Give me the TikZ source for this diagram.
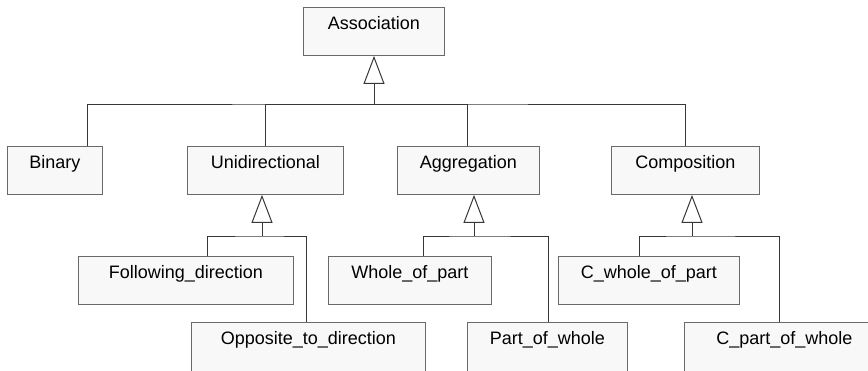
\documentclass[tikz,border=0pt]{standalone}
\usepackage{fontspec}
\setmainfont{Liberation Sans}
\usetikzlibrary{arrows.meta}
\definecolor{relleno}{RGB}{248,248,248}
\definecolor{borde}{RGB}{105,105,105}
\definecolor{trazo}{RGB}{55,55,55}
\tikzset{
  clase/.style={draw=borde, fill=relleno, line width=0.9pt, anchor=north west,
    minimum height=48pt, inner xsep=0pt, inner ysep=9pt,
    text height=13pt, text depth=17pt,
    font=\fontsize{18pt}{20pt}\selectfont},
  cortada/.style={text depth=27pt},
  linea/.style={draw=trazo, line width=1pt},
  herencia/.style={linea, -{Triangle[open,length=28pt,width=21pt]}}
}

\begin{document}
\begin{tikzpicture}[x=1pt,y=-1pt]
        \useasboundingbox (0,0) rectangle (868,370);
        \clip (0,0) rectangle (868,370);

        % clases
        \node[clase, minimum width=141pt] (asoc) at (303,7) {Association};
        \node[clase, minimum width=95pt]  (bin)  at (7,146)   {Binary};
        \node[clase, minimum width=156pt] (uni)  at (187,146) {Unidirectional};
        \node[clase, minimum width=142pt] (agr)  at (397,146) {Aggregation};
        \node[clase, minimum width=148pt] (comp) at (611,146) {Composition};
        \node[clase, minimum width=215pt] (seg)  at (78,256)  {Following\_direction};
        \node[clase, minimum width=163pt] (tod)  at (328,256) {Whole\_of\_part};
        \node[clase, minimum width=181pt] (ctod) at (558,256) {C\_whole\_of\_part};
        \node[clase, cortada, minimum width=234pt] (opu)  at (191,322) {Opposite\_to\_direction};
        \node[clase, cortada, minimum width=160pt] (par)  at (467,322) {Part\_of\_whole};
        \node[clase, cortada, minimum width=200pt] (cpar) at (684,322) {C\_part\_of\_whole};

        % puntos de union
        \coordinate (uA) at (374,104);
        \coordinate (uU) at (262,236);
        \coordinate (uG) at (474,236);
        \coordinate (uC) at (692,236);

        % Association
        \draw[linea] ([xshift=-15pt]bin.north east) |- (uA) -| (comp.north);
        \draw[linea] (uA) -| (uni.north);
        \draw[linea] (uA) -| ([xshift=70pt]agr.north west);
        \draw[herencia] (uA) -- (uA |- asoc.south);

        % Unidirectional
        \draw[linea] ([xshift=129pt]seg.north west) |- (uU) -| ([xshift=115pt]opu.north west);
        \draw[herencia] (uU) -- (uU |- uni.south);

        % Aggregation
        \draw[linea] ([xshift=95pt]tod.north west) |- (uG) -| ([xshift=81pt]par.north west);
        \draw[herencia] (uG) -- (uG |- agr.south);

        % Composition
        \draw[linea] ([xshift=81pt]ctod.north west) |- (uC) -| ([xshift=95pt]cpar.north west);
        \draw[herencia] (uC) -- (uC |- comp.south);
\end{tikzpicture}
\end{document}
